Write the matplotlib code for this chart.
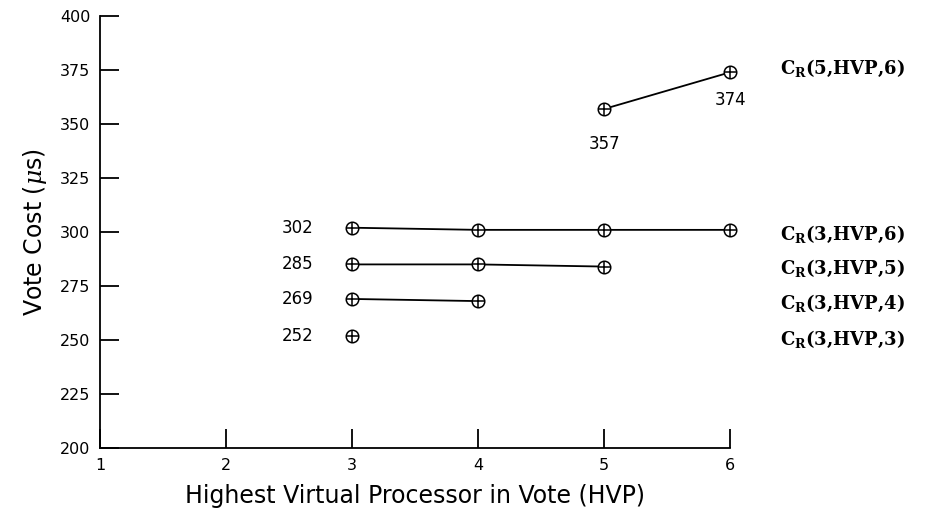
import numpy as np
import matplotlib.pyplot as plt

# Vote cost vs highest virtual processor for each configuration
hvp_5_6 = [5, 6]
cost_5_6 = [357, 374]

hvp_3_6 = [3, 4, 5, 6]
cost_3_6 = [302, 301, 301, 301]

hvp_3_5 = [3, 4, 5]
cost_3_5 = [285, 285, 284]

hvp_3_4 = [3, 4]
cost_3_4 = [269, 268]

hvp_3_3 = [3]
cost_3_3 = [252]

series = [
    (hvp_5_6, cost_5_6, r'C$_\mathregular{R}$(5,HVP,6)'),
    (hvp_3_6, cost_3_6, r'C$_\mathregular{R}$(3,HVP,6)'),
    (hvp_3_5, cost_3_5, r'C$_\mathregular{R}$(3,HVP,5)'),
    (hvp_3_4, cost_3_4, r'C$_\mathregular{R}$(3,HVP,4)'),
    (hvp_3_3, cost_3_3, r'C$_\mathregular{R}$(3,HVP,3)'),
]
label_y = [376, 299, 283, 267, 250]

plt.rcParams['mathtext.fontset'] = 'dejavuserif'

fig = plt.figure(figsize=(9.3, 5.22), dpi=100)
ax = fig.add_axes([0.1075, 0.142, 0.6775, 0.827])

for xs, ys, name in series:
    ax.plot(xs, ys, color='black', lw=1.3, zorder=1, clip_on=False)
    ax.plot(xs, ys, 'o', mfc='white', mec='black', ms=9, mew=1.1, zorder=2, clip_on=False)
    ax.plot(xs, ys, '+', color='black', ms=9, mew=1.1, zorder=3, clip_on=False)

# value labels to the left of the x=3 points
for ys in [cost_3_6, cost_3_5, cost_3_4, cost_3_3]:
    ax.text(2.57, ys[0], str(ys[0]), ha='center', va='center', fontsize=12)
ax.text(5, cost_5_6[0] - 16, str(cost_5_6[0]), ha='center', va='center', fontsize=12)
ax.text(6, cost_5_6[1] - 13, str(cost_5_6[1]), ha='center', va='center', fontsize=12)

# curve names on the right
for (xs, ys, name), ly in zip(series, label_y):
    ax.text(6.4, ly, name, ha='left', va='center', fontsize=13,
            family='DejaVu Serif', fontweight='bold', clip_on=False)

ax.set_xlim(1, 6)
ax.set_ylim(200, 400)
ax.set_xticks(np.arange(1, 7))
ax.set_yticks(np.arange(200, 401, 25))
ax.tick_params(direction='in', length=14, width=1.3, labelsize=11.5, pad=7)
ax.spines['top'].set_visible(False)
ax.spines['right'].set_visible(False)
ax.spines['left'].set_linewidth(1.3)
ax.spines['bottom'].set_linewidth(1.3)

ax.set_xlabel('Highest Virtual Processor in Vote (HVP)', fontsize=17, labelpad=8)
ax.set_ylabel(r'Vote Cost ($\mu$s)', fontsize=17, labelpad=8)

fig.savefig('out.png', dpi=100)
